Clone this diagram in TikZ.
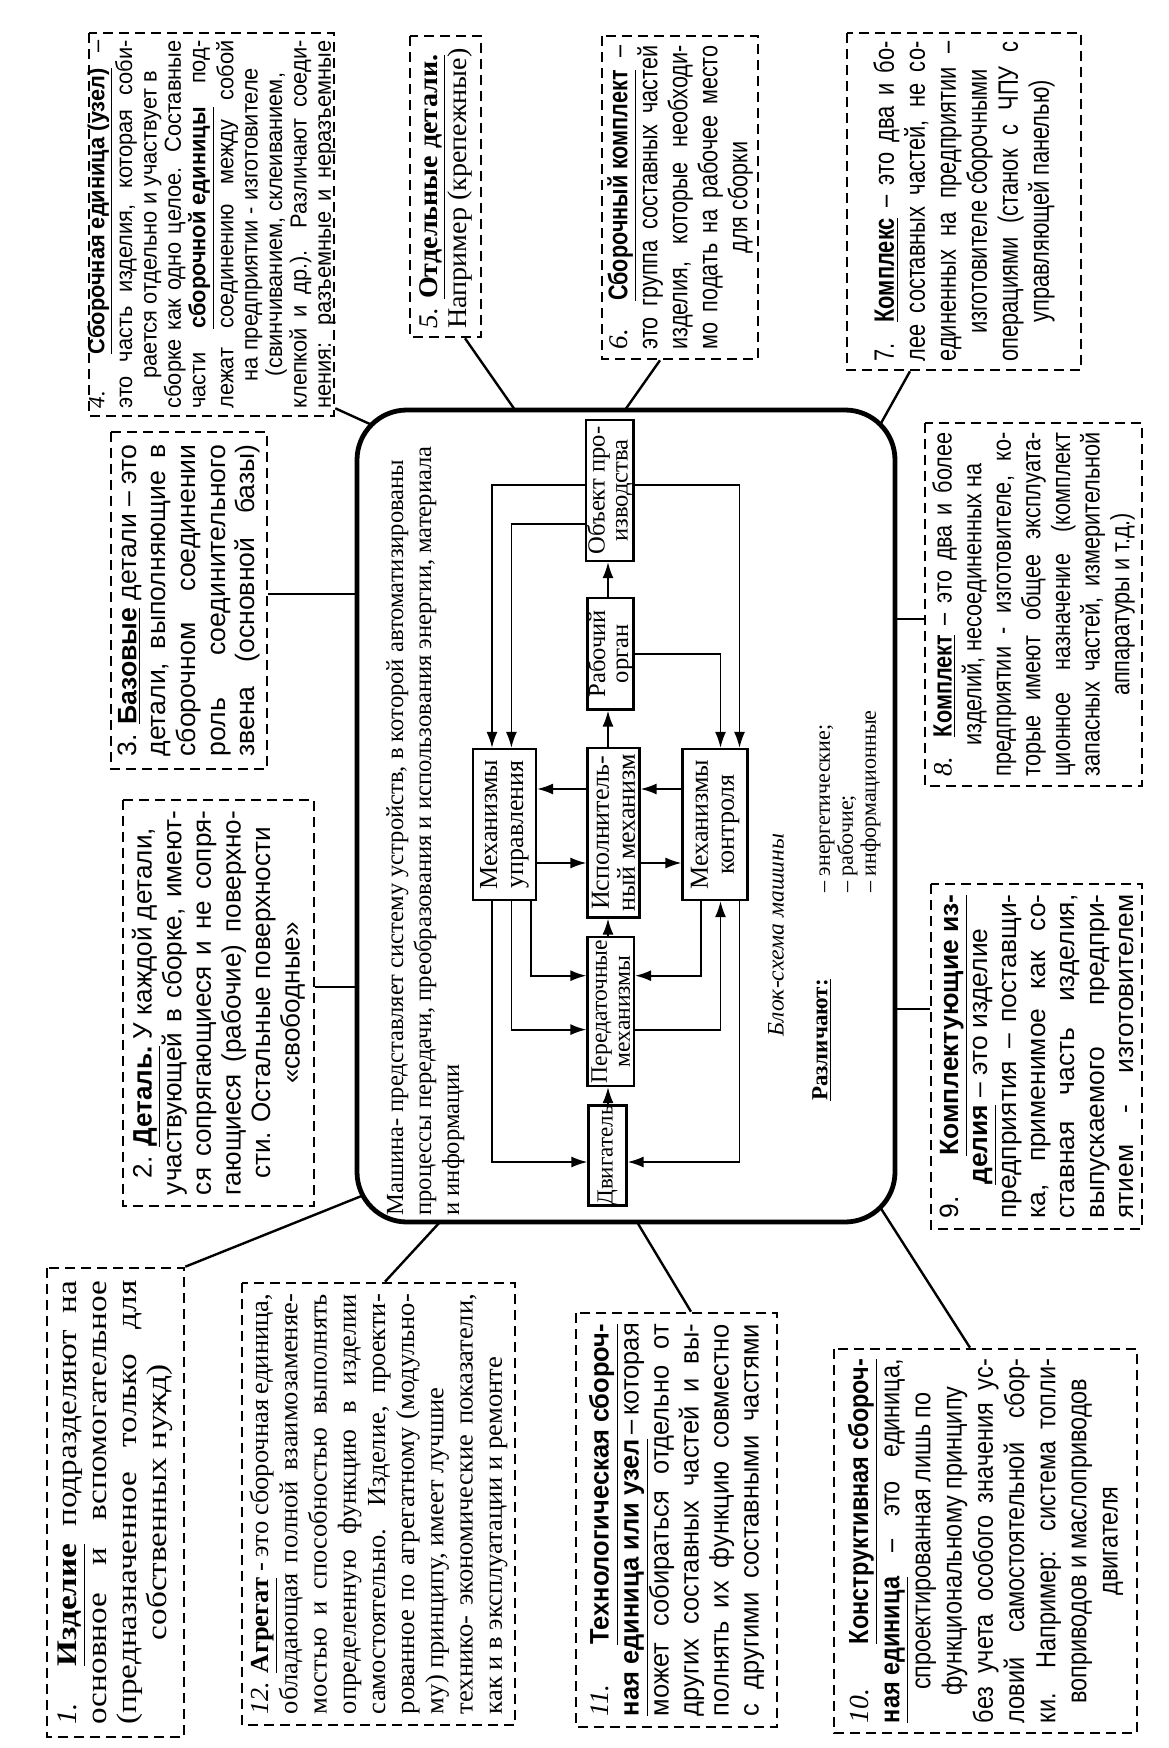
\documentclass[tikz,border=0pt]{standalone}
\usepackage{fontspec}
\setmainfont{Liberation Serif}
\setsansfont{Liberation Sans}
\usetikzlibrary{arrows.meta,calc}
\newcommand{\SerW}[1]{\fontspec[FakeStretch=#1]{Liberation Serif}}
\newcommand{\SanW}[1]{\fontspec[FakeStretch=#1]{Liberation Sans}}
\newcommand{\Jl}[1]{\setbox0=\hbox{#1}\ifdim\wd0>0.75\hsize\hbox to\hsize{#1}\else\hbox to\hsize{#1\hfil}\fi}
\newcommand{\Cl}[1]{\hbox to\hsize{\hfil#1\hfil}}
\newcommand{\Ll}[1]{\hbox to\hsize{#1\hfil}}
\newcommand{\Bx}[2]{\vbox{\hsize=#1\relax#2}}
\newcommand{\fsz}[2]{\fontsize{#1}{#2}\selectfont}
\newcommand{\UB}[1]{\underline{\textbf{#1}}}
\newcommand{\Num}[1]{{\rmfamily\itshape #1}}
\hbadness=10000 \hfuzz=30pt
\begin{document}
\begin{tikzpicture}[x=0.5pt,y=-0.5pt,
  dbox/.style={draw, line width=1.3pt, dash pattern=on 5pt off 3pt, rotate=90, inner sep=0pt},
  txt/.style={rotate=90, inner sep=0pt},
  blk/.style={draw, line width=1.1pt, rotate=90, align=center, inner sep=0pt, font=\fsz{13}{13}},
  blkn/.style={blk, font=\fsz{12.3}{11.5}},
  bigbox/.style={draw, line width=2.4pt, rounded corners=25pt, inner sep=0pt},
  conn/.style={line width=1.2pt},
  arr/.style={line width=0.9pt, -{Latex[length=8pt,width=5.5pt]}},
]
\useasboundingbox (0,0) rectangle (1168,1748);
\fill[white] (0,0) rectangle (1168,1748);

% ---------- central machine box ----------
\node[bigbox, minimum width=269pt, minimum height=406pt] (mach) at (626,816) {};

\node[txt, anchor=north west, align=left, font=\fsz{12.3}{14}] (mtext) at (386,1216)
 {Машина- представляет систему устройств, в которой автоматизированы\\
  процессы передачи, преобразования и использования энергии, материала\\
  и информации};

\node[blkn, minimum width=70.5pt, minimum height=23.75pt] (ob) at (609.75,490.5) {Объект про-\\изводства};
\node[blkn, minimum width=55.75pt, minimum height=23pt] (ro) at (610.5,653.75) {Рабочий\\орган};
\node[blk, minimum width=84.75pt, minimum height=26pt] (im) at (613.5,832.75) {Исполнитель-\\ный механизм};
\node[blk, minimum width=75.5pt, minimum height=31.5pt] (mu) at (504.5,824.5) {Механизмы\\управления};
\node[blk, minimum width=75.5pt, minimum height=32.5pt] (mk) at (715,824.5) {Механизмы\\контроля};
\node[blkn, font=\fsz{11.8}{11.5}, minimum width=74.5pt, minimum height=23.25pt] (pm) at (610.75,1011.5) {Передаточные\\механизмы};
\node[blkn, font=\fsz{11.5}{11.5}, minimum width=49.5pt, minimum height=19pt] (dv) at (607.5,1155.5) {Двигатель};

\node[txt, font=\fsz{11.8}{14}\itshape] (bs) at (776,935) {Блок-схема машины};
\node[txt, font=\fsz{11.5}{14}] (rz) at (822,1040) {\UB{Различают:}};
\node[txt, anchor=north west, align=left, font=\fsz{11}{11.5}] (ls) at (819,893)
 {– энергетические;\\– рабочие;\\– информационные};

% inner connections
\coordinate (L1) at (492,484.7);
\coordinate (L2) at (511.4,524.3);
\coordinate (R1) at (739.5,484.7);
\coordinate (R2) at (720.5,654);
\coordinate (X) at (608,0);
\coordinate (H1) at (0,789);
\coordinate (H2) at (0,863);
\coordinate (B1) at (530.7,975.7);
\coordinate (B2) at (511.4,1029.6);
\coordinate (B3) at (492,1162);
\coordinate (B4) at (700.9,975.7);
\coordinate (B5) at (720.5,1029.6);
\coordinate (B6) at (739.5,1162);

\draw[arr] (L1 -| ob.north) -- (L1) -- (L1 |- mu.east);
\draw[arr] (L2 -| ob.north) -- (L2) -- (L2 |- mu.east);
\draw[arr] (R1 -| ob.south) -- (R1) -- (R1 |- mk.east);
\draw[arr] (R2 -| ro.south) -- (R2) -- (R2 |- mk.east);
\draw[arr] (X |- ro.east) -- (X |- ob.west);
\draw[arr] (X |- im.east) -- (X |- ro.west);
\draw[arr] (X |- pm.east) -- (X |- im.west);
\draw[arr] (X |- dv.east) -- (X |- pm.west);
\draw[arr] (H1 -| im.north) -- (H1 -| mu.south);
\draw[arr] (H2 -| mu.south) -- (H2 -| im.north);
\draw[arr] (H1 -| mk.north) -- (H1 -| im.south);
\draw[arr] (H2 -| im.south) -- (H2 -| mk.north);
\draw[arr] (B1 |- mu.west) -- (B1) -- (B1 -| pm.north);
\draw[arr] (B2 |- mu.west) -- (B2) -- (B2 -| pm.north);
\draw[arr] (B3 |- mu.west) -- (B3) -- (B3 -| dv.north);
\draw[arr] (B4 |- mk.west) -- (B4) -- (B4 -| pm.south);
\draw[arr] (B5 -| pm.south) -- (B5) -- (B5 |- mk.west);
\draw[arr] (B6 |- mk.west) -- (B6) -- (B6 -| dv.south);

% ---------- surrounding boxes ----------
% 1
\node[dbox, minimum width=234.5pt, minimum height=68.5pt] (b1) at (115.5,1502.5) {};
\node[txt] (t1) at (b1.center) {\SerW{1.17}\fsz{14.2}{15}\Bx{222pt}{
 \Jl{\Num{1.} \UB{Изделие} подразделяют на}
 \Jl{основное и вспомогательное}
 \Jl{(предназначенное только для}
 \Cl{собственных нужд)}}};
% 12
\node[dbox, minimum width=221pt, minimum height=136.5pt] (b12) at (378.5,1504) {};
\node[txt] (t12) at (b12.center) {\SerW{1.02}\fsz{13}{14.6}\Bx{210pt}{
 \Jl{\Num{12.} \UB{Агрегат} - это сборочная единица,}
 \Jl{обладающая полной взаимозаменяе-}
 \Jl{мостью и способностью выполнять}
 \Jl{определенную функцию в изделии}
 \Jl{самостоятельно. Изделие, проекти-}
 \Jl{рованное по агрегатному (модульно-}
 \Ll{му) принципу, имеет лучшие}
 \Jl{технико- экономические показатели,}
 \Ll{как и в эксплуатации и ремонте}}};
% 11
\node[dbox, minimum width=207pt, minimum height=100.5pt] (b11) at (676.5,1520) {};
\node[txt] (t11) at (b11.center) {\SanW{0.95}\fsz{13.4}{15}\Bx{196pt}{
 \Jl{\Num{11.} \UB{Технологическая сбороч-}}
 \Jl{\UB{ная единица или узел} – которая}
 \Jl{может собираться отдельно от}
 \Jl{других составных частей и вы-}
 \Jl{полнять их функцию совместно}
 \Jl{с другими составными частями}}};
% 10
\node[dbox, minimum width=192pt, minimum height=151.5pt] (b10) at (985.5,1541) {};
\node[txt] (t10) at (b10.center) {\SanW{0.85}\fsz{13.8}{15.6}\Bx{182pt}{
 \Jl{\Num{10.} \UB{Конструктивная сбороч-}}
 \Jl{\UB{ная единица} – это единица,}
 \Cl{спроектированная лишь по}
 \Cl{функциональному принципу}
 \Jl{без учета особого значения ус-}
 \Jl{ловий самостоятельной сбор-}
 \Jl{ки. Например: система топли-}
 \Cl{воприводов и маслоприводов}
 \Cl{двигателя}}};
% 2
\node[dbox, minimum width=203pt, minimum height=95.5pt] (b2) at (218.5,1003) {};
\node[txt] (t2) at (b2.center) {\SanW{0.98}\fsz{13.3}{14.8}\Bx{192pt}{
 \Cl{2. \UB{Деталь.} У каждой детали,}
 \Jl{участвующей в сборке, имеют-}
 \Jl{ся сопрягающиеся и не сопря-}
 \Jl{гающиеся (рабочие) поверхно-}
 \Cl{сти. Остальные поверхности}
 \Cl{«свободные»}}};
% 3
\node[dbox, minimum width=168.5pt, minimum height=78pt] (b3) at (189,600.5) {};
\node[txt] (t3) at (b3.center) {\SanW{1.0}\fsz{13.3}{14.8}\Bx{156pt}{
 \Jl{3. \UB{Базовые} детали – \hfill это}
 \Jl{детали, выполняющие в}
 \Jl{сборочном соединении}
 \Jl{роль соединительного}
 \Jl{звена (основной базы)}}};
% 9
\node[dbox, minimum width=172.5pt, minimum height=105.5pt] (b9) at (1036.5,1056.5) {};
\node[txt] (t9) at (b9.center) {\SanW{1.0}\fsz{13.2}{14.6}\Bx{162pt}{
 \Jl{9. \UB{Комплектующие из-}}
 \Cl{\UB{делия} – это изделие}
 \Jl{предприятия – поставщи-}
 \Jl{ка, применимое как со-}
 \Jl{ставная часть изделия,}
 \Jl{выпускаемого предпри-}
 \Jl{ятием - изготовителем}}};
% 8
\node[dbox, minimum width=181.5pt, minimum height=108.5pt] (b8) at (1033.5,604.5) {};
\node[txt] (t8) at (b8.center) {\SanW{0.82}\fsz{13.2}{14.8}\Bx{172pt}{
 \Jl{\Num{8.} \UB{Комплект} – это два и более}
 \Cl{изделий, несоединенных на}
 \Jl{предприятии - изготовителе, ко-}
 \Jl{торые имеют общее эксплуата-}
 \Jl{ционное назначение (комплект}
 \Jl{запасных частей, измерительной}
 \Cl{аппаратуры и т.д.)}}};
% 4
\node[dbox, minimum width=191.5pt, minimum height=122.5pt] (b4) at (211.5,224.5) {};
\node[txt] (t4) at (b4.center) {\SanW{0.94}\fsz{11.6}{12.2}\Bx{184pt}{
 \Jl{\Num{4.} \UB{Сборочная единица (узел)} –}
 \Jl{это часть изделия, которая соби-}
 \Cl{рается отдельно и участвует в}
 \Jl{сборке как одно целое. Составные}
 \Jl{части \UB{сборочной единицы} под-}
 \Jl{лежат соединению между собой}
 \Cl{на предприятии - изготовителе}
 \Cl{(свинчиванием, склеиванием,}
 \Jl{клепкой и др.). Различают соеди-}
 \Jl{нения: разъемные и неразъемные}}};
% 5
\node[dbox, minimum width=150.5pt, minimum height=35.5pt] (b5) at (445.5,186.5) {};
\node[txt] (t5) at (b5.center) {\SerW{1.04}\fsz{13.5}{14.5}\Bx{142pt}{
 \Ll{\Num{5.} \UB{Отдельные детали.}}
 \Ll{Например (крепежные)}}};
% 6
\node[dbox, minimum width=161.5pt, minimum height=78pt] (b6) at (680,197.5) {};
\node[txt] (t6) at (b6.center) {\SanW{0.8}\fsz{13.5}{15}\Bx{152pt}{
 \Jl{\Num{6.} \UB{Сборочный комплект} –}
 \Jl{это группа составных частей}
 \Jl{изделия, которые необходи-}
 \Jl{мо подать на рабочее место}
 \Cl{для сборки}}};
% 7
\node[dbox, minimum width=168.5pt, minimum height=117pt] (b7) at (964,201.5) {};
\node[txt] (t7) at (b7.center) {\SanW{0.78}\fsz{14}{15.5}\Bx{160pt}{
 \Jl{7. \UB{Комплекс} – это два и бо-}
 \Jl{лее составных частей, не со-}
 \Jl{единенных на предприятии –}
 \Cl{изготовителе сборочными}
 \Jl{операциями (станок с ЧПУ с}
 \Cl{управляющей панелью)}}};

% ---------- connectors to the machine box ----------
\coordinate (e1) at (364,1195);
\coordinate (e12) at (440,1222);
\coordinate (e11) at (637,1222);
\coordinate (e10) at (880,1207);
\coordinate (e2) at (357,987);
\coordinate (e3) at (357,594);
\coordinate (e9) at (895,1009);
\coordinate (e8) at (895,619);
\coordinate (e4) at (372,425);
\coordinate (e5) at (515,410);
\coordinate (e6) at (625,410);
\coordinate (e7) at (880,425);

\draw[conn] (b1.south east) -- (e1);
\draw[conn] ($(b12.east)+(6.5,0)$) -- (e12);
\draw[conn] ($(b11.east)+(14.5,0)$) -- (e11);
\draw[conn] ($(b10.east)+(-15.5,0)$) -- (e10);
\draw[conn] ($(b2.south)+(0,-16)$) -- (e2);
\draw[conn] ($(b3.south)+(0,-6.5)$) -- (e3);
\draw[conn] ($(b9.north)+(0,-47.5)$) -- (e9);
\draw[conn] ($(b8.north)+(0,14.5)$) -- (e8);
\draw[conn] ($(b4.south west)+(0,-9)$) -- (e4);
\draw[conn] ($(b5.west)+(19.5,0)$) -- (e5);
\draw[conn] ($(b6.west)+(-20,0)$) -- (e6);
\draw[conn] ($(b7.west)+(-54,0)$) -- (e7);
\end{tikzpicture}
\end{document}
